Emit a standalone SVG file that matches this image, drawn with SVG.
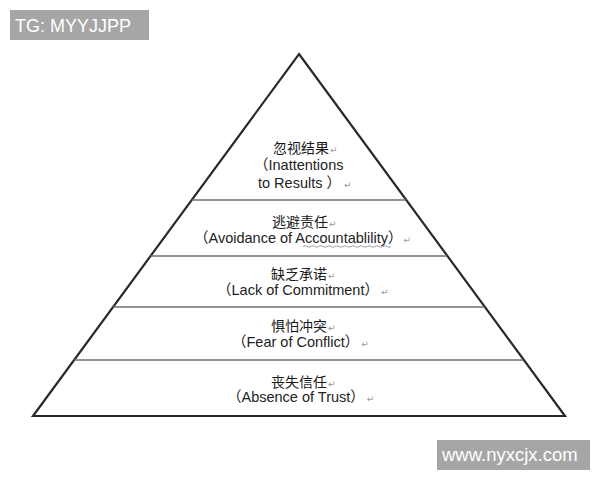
<svg xmlns="http://www.w3.org/2000/svg" width="600" height="480" viewBox="0 0 600 480">
<style>
  .zh { font-family: "Liberation Sans", "Noto Sans CJK SC", sans-serif; font-size: 14px; fill: #1a1a1a; }
  .en { font-family: "Liberation Sans", "Noto Sans CJK SC", sans-serif; font-size: 14.5px; fill: #222; }
  .pm { font-family: "DejaVu Sans", sans-serif; font-size: 9px; fill: #999; }
  .sep { stroke: #6f6f6f; stroke-width: 1.6; fill: none; }
  .outline { stroke: #2a2a2a; stroke-width: 2.2; fill: #fff; stroke-linejoin: miter; }
  .wm { fill: #a6a6a6; }
  .wmt { font-family: "Liberation Sans", sans-serif; fill: #fff; }
</style>
<rect width="600" height="480" fill="#fff"/>

<g id="pyramid">
  <polygon class="outline" points="299,54 565,416 33,416"/>
</g>

<g id="connectors">
  <line class="sep" x1="191.7" y1="200" x2="406" y2="200"/>
  <line class="sep" x1="150.6" y1="256" x2="447" y2="256"/>
  <line class="sep" x1="113.1" y1="307" x2="484.4" y2="307"/>
  <line class="sep" x1="74.1" y1="360" x2="523.2" y2="360"/>
</g>

<g id="layer1">
  <text class="zh" x="273" y="153">忽视结果<tspan class="pm" dx="1">↵</tspan></text>
  <text class="en" x="254" y="170">（Inattentions</text>
  <text class="en" x="258" y="188">to Results ）<tspan class="pm" dx="3">↵</tspan></text>
</g>

<g id="layer2">
  <text class="zh" x="272" y="227">逃避责任<tspan class="pm" dx="1">↵</tspan></text>
  <text class="en" x="194" y="243">（Avoidance of Accountablility）<tspan class="pm" dx="1">↵</tspan></text>
  <path d="M303,246.5 q2,-1.5 4,0 t4,0 t4,0 t4,0 t4,0 t4,0 t4,0 t4,0 t4,0 t4,0 t4,0 t4,0 t4,0 t4,0 t4,0 t4,0 t4,0 t4,0 t4,0 t4,0 t4,0 t4,0" fill="none" stroke="#8a8a8a" stroke-width="0.8"/>
</g>

<g id="layer3">
  <text class="zh" x="271" y="279">缺乏承诺<tspan class="pm" dx="1">↵</tspan></text>
  <text class="en" x="217" y="295">（Lack of Commitment）<tspan class="pm" dx="2">↵</tspan></text>
</g>

<g id="layer4">
  <text class="zh" x="271" y="331">惧怕冲突<tspan class="pm" dx="1">↵</tspan></text>
  <text class="en" x="232" y="347">（Fear of Conflict）<tspan class="pm" dx="2">↵</tspan></text>
</g>

<g id="layer5">
  <text class="zh" x="271" y="387">丧失信任<tspan class="pm" dx="1">↵</tspan></text>
  <text class="en" x="227" y="402">（Absence of Trust）<tspan class="pm" dx="2">↵</tspan></text>
</g>

<g id="watermark-top">
  <rect class="wm" x="10" y="10" width="139" height="30"/>
  <text class="wmt" x="15" y="32" font-size="18">TG: MYYJJPP</text>
</g>

<g id="watermark-bottom">
  <rect class="wm" x="437" y="440" width="153" height="30"/>
  <text class="wmt" x="442" y="461" font-size="18.5">www.nyxcjx.com</text>
</g>
</svg>
